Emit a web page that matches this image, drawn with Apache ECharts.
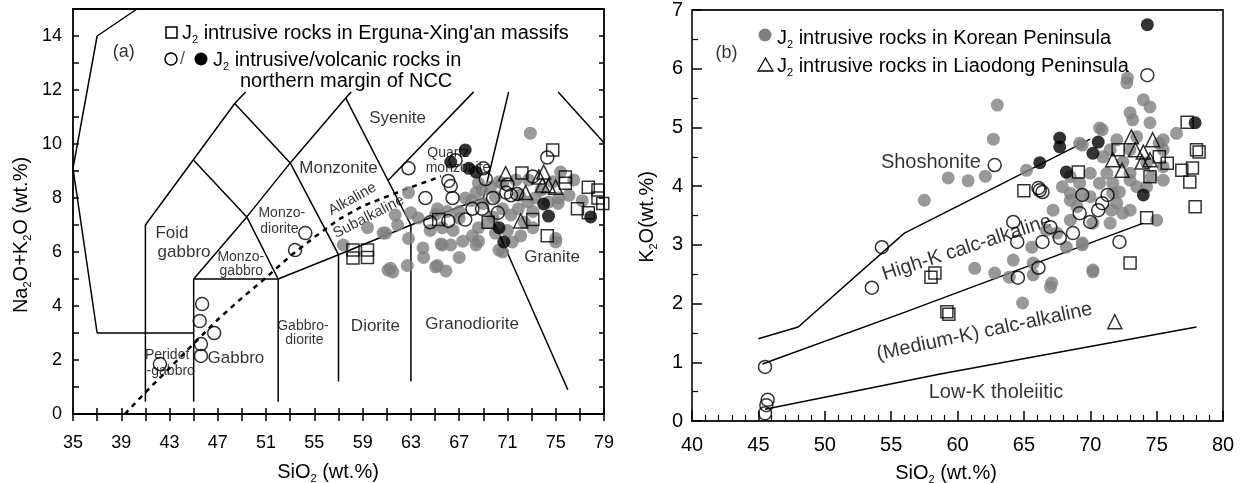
<!DOCTYPE html>
<html>
<head>
<meta charset="utf-8">
<script src="https://cdn.jsdelivr.net/npm/echarts@6/dist/echarts.min.js"></script>
<style>
  html, body { margin: 0; padding: 0; background: #fff; }
  #chart { width: 1240px; height: 483px; }
</style>
</head>
<body>
<div id="chart"></div>
<script>
const FONT = '"Liberation Sans", Arial, Helvetica, sans-serif';

// ---------- (a) TAS diagram: SiO2 vs Na2O+K2O (wt.%) ----------
const tasXTickValues = [35,37,39,41,43,45,47,49,51,53,55,57,59,61,63,65,67,69,71,73,75,77,79];
const tasXLabelValues = [35,39,43,47,51,55,59,63,67,71,75,79];
const tasYLabelValues = [0,2,4,6,8,10,12,14];

// field boundaries, [SiO2, Na2O+K2O]
const tasBoundaries = [
  [[40.3,15],[37,14],[35,9.1],[37,3],[45,3]],
  [[41,0.45],[41,7],[48.4,11.5],[49.3,11.93]],
  [[45,0.45],[45,5],[52,5],[52,0.45]],
  [[45,5],[49.4,7.3],[52,5]],
  [[45,9.4],[49.4,7.3],[53,9.3],[57.6,11.7],[58.05,11.93]],
  [[48.4,11.5],[53,9.3],[57,5.9]],
  [[52,5],[57,5.9],[63,7],[69,8]],
  [[57.6,11.7],[63,7]],
  [[61.1,8.65],[68.2,11.93]],
  [[69,8],[71.1,11.93]],
  [[75.2,11.93],[79,10.05]],
  [[69,8],[76,0.9]],
  [[57,1.2],[57,5.9]],
  [[63,1.2],[63,7]]
];
// alkaline / subalkaline divide
const tasAlkalineDivide = [[39.3,0],[41,0.8],[43,1.7],[45,2.6],[47,3.5],[49,4.3],[51,5.05],[53,5.85],[55,6.55],[57,7.2],[59,7.7],[61,8.05],[63,8.4],[65.5,8.8]];

// field names: [SiO2, Na2O+K2O, text, fontSize, rotation]
const tasFieldLabels = [
  [39.2,13.4,'(a)',18,0],
  [43.2,6.7,'Foid',17,0],
  [44.2,6.0,'gabbro',17,0],
  [52.3,7.44,'Monzo-',14,0],
  [52.1,6.85,'diorite',14,0],
  [48.9,5.81,'Monzo-',14,0],
  [48.95,5.3,'gabbro',14,0],
  [57.0,9.1,'Monzonite',17,0],
  [61.9,10.96,'Syenite',17,0],
  [66.1,9.67,'Quartz',14,0],
  [66.9,9.1,'monzonite',14,0],
  [58.15,7.96,'Alkaline',15,29],
  [59.5,7.3,'Subalkaline',15,27],
  [48.5,2.07,'Gabbro',17,0],
  [42.8,2.19,'Peridot',14,0],
  [43.1,1.6,'-gabbro',14,0],
  [54.05,3.26,'Gabbro-',14,0],
  [54.17,2.74,'diorite',14,0],
  [60.06,3.26,'Diorite',17,0],
  [68.07,3.33,'Granodiorite',17,0],
  [74.7,5.81,'Granite',17,0]
];

// samples, [SiO2, Na2O+K2O]
const tasKoreaGray = [
  [72.9,10.4],[62.8,8.2],[63.0,7.45],[61.9,7.0],[60.7,6.7],[62.8,6.5],[64.0,6.15],[64.05,5.8],[61.3,5.4],[62.7,5.5],
  [65.2,5.5],[65.9,5.3],[67.0,5.8],[65.2,7.6],[65.05,7.4],[67.0,7.25],[65.6,6.9],[66.5,6.8],[67.3,6.4],[68.1,6.6],
  [68.6,6.9],[67.5,8.0],[68.4,8.2],[68.6,8.55],[69.6,8.4],[69.4,7.1],[70.0,6.7],[71.0,6.8],[71.3,7.37],[70.6,7.6],
  [71.9,7.6],[72.7,7.85],[73.3,8.0],[73.1,7.5],[74.4,7.85],[75.25,8.0],[76.1,8.1],[75.0,6.5],[73.1,6.9],[72.1,6.6],
  [71.4,6.37],[70.6,6.0],[74.75,8.6],[75.4,8.96],[72.75,8.67],[71.7,8.67],[70.6,8.55],[70.0,8.04],[68.9,8.3],[67.0,7.5],
  [66.0,7.5],[64.6,6.8],[63.6,7.26],[65.5,6.3],[66.3,6.26],[68.4,6.26],[77.2,7.9],[75.2,7.8],[76.5,8.67],[61.7,7.37],
  [61.5,5.26],[65.05,5.45],[65.6,6.26],[70.3,6.07],[75.0,6.37],[68.6,6.4],[59.4,6.9],[60.9,6.7],[57.4,6.26],[61.1,5.33],
  [69.0,7.8],[69.8,7.3],[72.0,8.1],[73.8,8.3],[68.0,7.9],[70.3,8.6],[72.4,7.1]
];
const tasErgunaSquares = [
  [58.2,6.07],[59.4,6.07],[58.2,5.78],[59.4,5.8],[74.75,9.78],[72.2,8.93],[75.8,8.78],[75.8,8.55],[77.7,8.4],[78.5,8.3],
  [78.5,8.0],[78.9,7.8],[76.8,7.6],[77.7,7.45],[73.1,7.2],[69.4,7.1],[65.3,7.2],[74.3,6.6]
];
const tasLiaodongTriangles = [
  [70.85,8.9],[73.6,8.78],[74.0,8.96],[73.9,8.48],[74.4,8.45],[75.0,8.4],[72.5,8.2],[72.1,7.15]
];
const tasNccIntrusive = [
  [45.7,4.07],[45.5,3.44],[45.6,2.59],[45.6,2.15],[46.7,3.0],[42.2,1.85],[53.4,6.07],[54.25,6.7],[62.8,9.1],[66.7,9.4],
  [69.0,9.1],[69.2,8.7],[66.1,8.63],[66.3,8.44],[66.45,8.0],[64.2,8.0],[74.3,9.5],[69.8,8.0],[68.1,7.6],[68.9,7.6],
  [67.5,7.2],[66.1,7.15],[64.6,7.1],[70.2,7.45],[70.9,8.2],[71.3,8.1],[71.8,8.15],[71.0,8.5],[73.1,8.8]
];
const tasNccVolcanic = [
  [67.5,9.78],[66.3,9.33],[67.8,9.1],[68.4,8.96],[74.0,7.78],[74.4,7.33],[70.3,6.9],[70.7,6.37],[77.9,7.3]
];

// ---------- (b) SiO2 vs K2O (wt.%) ----------
const kXMin = 40, kXMax = 80, kXStep = 5;
const kYMin = 0, kYMax = 7, kYStep = 1;

// series boundaries, [SiO2, K2O]
const kBoundaries = [
  [[45,1.4],[48,1.6],[56,3.2],[70,4.8]],
  [[45.3,0.97],[56,1.85],[74,3.37]],
  [[45.5,0.2],[58.7,0.8],[78,1.6]]
];
const kSeriesLabels = [
  [42.6,6.27,'(b)',18,0],
  [58.0,4.4,'Shoshonite',20,0],
  [60.7,2.95,'High-K calc-alkaline',20,18],
  [62.03,1.52,'(Medium-K) calc-alkaline',20,12],
  [62.9,0.49,'Low-K tholeiitic',20,0]
];

const kKoreaGray = [
  [57.5,3.76],[63.0,5.38],[62.7,4.8],[59.3,4.14],[60.8,4.09],[62.1,4.17],[65.2,4.27],[61.3,2.6],[62.8,2.52],[63.9,2.45],
  [64.2,2.74],[65.6,2.96],[65.7,2.69],[65.7,2.49],[64.9,2.01],[67.0,2.28],[67.2,3.59],[66.7,3.25],[70.2,2.54],[68.2,2.96],
  [69.4,3.0],[72.8,5.84],[72.75,5.76],[74.0,5.47],[74.5,5.35],[73.0,5.25],[73.2,5.13],[74.5,5.08],[76.5,4.9],[70.9,4.96],
  [72.0,4.79],[73.5,4.84],[75.5,4.79],[69.2,4.73],[71.5,4.62],[73.0,4.62],[75.5,4.62],[70.95,4.5],[72.45,4.41],[74.25,4.4],
  [75.5,4.33],[70.0,4.22],[71.25,4.22],[73.0,4.22],[69.2,4.05],[70.7,4.05],[75.5,4.1],[68.5,3.88],[70.0,3.82],[71.7,3.88],
  [73.5,3.99],[74.25,3.99],[69.0,3.65],[72.0,3.71],[72.45,3.54],[68.5,3.42],[71.5,3.37],[75.0,3.42],[67.5,3.2],[70.7,4.99],
  [69.4,4.7],[75.2,4.73],[73.0,3.59],[71.6,3.59],[70.2,3.37],[69.4,3.03],[70.2,2.57],[67.1,2.35],[74.6,4.16],[68.5,4.16],
  [67.9,3.99],[72.2,3.9],[68.5,3.76],[71.7,4.05],[73.0,4.1],[69.4,3.85]
];
const kErgunaSquares = [
  [65.0,3.92],[58.0,2.45],[58.3,2.52],[59.2,1.86],[59.35,1.82],[69.1,4.24],[72.1,4.62],[75.2,4.5],[75.8,4.39],[76.9,4.27],
  [77.7,4.31],[77.5,4.07],[77.9,3.65],[78.0,4.62],[78.2,4.58],[77.3,5.09],[74.5,4.16],[74.25,3.46],[73.0,2.69]
];
const kLiaodongTriangles = [
  [73.1,4.84],[74.7,4.79],[71.7,4.45],[72.4,4.27],[73.4,4.62],[74.0,4.58],[74.5,4.45],[73.9,4.41],[71.85,1.69]
];
const kNccIntrusive = [
  [54.3,2.96],[53.55,2.27],[45.5,0.92],[45.7,0.36],[45.6,0.27],[45.5,0.13],[74.3,5.89],[62.8,4.36],[66.1,3.97],[66.4,3.9],
  [66.2,3.93],[64.2,3.39],[64.5,3.05],[66.4,3.05],[64.55,2.44],[66.1,2.61],[72.2,3.05],[69.4,3.85],[71.3,3.85],[70.9,3.71],
  [70.6,3.59],[69.2,3.54],[70.0,3.39],[67.7,3.12],[68.7,3.2],[67.0,3.3]
];
const kNccVolcanic = [
  [74.3,6.75],[67.7,4.82],[67.7,4.67],[70.6,4.75],[70.2,4.56],[66.2,4.4],[68.2,4.24],[74.0,3.85],[77.9,5.08]
];

// ---------- helpers ----------
const GRAY = '#808080';

function boundary(pts, axis, extra) {
  return {
    type: 'line', xAxisIndex: axis, yAxisIndex: axis, data: pts,
    symbol: 'none', silent: true, z: 2,
    lineStyle: Object.assign({ color: '#000', width: 1.5 }, extra || {})
  };
}
function fieldText(list, axis) {
  return {
    type: 'scatter', xAxisIndex: axis, yAxisIndex: axis, silent: true, z: 1,
    symbolSize: 1, itemStyle: { color: 'transparent' },
    label: { show: true, position: 'inside', color: '#000', fontFamily: FONT },
    data: list.map(([x, y, t, fs, rot]) => ({
      value: [x, y],
      label: { formatter: t, fontSize: fs, rotate: rot }
    }))
  };
}
function samples(data, axis, kind, z) {
  const s = { type: 'scatter', xAxisIndex: axis, yAxisIndex: axis, data, silent: true, z };
  if (kind === 'gray') { s.symbol = 'circle'; s.symbolSize = 13; s.itemStyle = { color: GRAY }; }
  if (kind === 'black') { s.symbol = 'circle'; s.symbolSize = 13; s.itemStyle = { color: '#000' }; }
  if (kind === 'open') { s.symbol = 'circle'; s.symbolSize = 13; s.itemStyle = { color: 'transparent', borderColor: '#000', borderWidth: 1.5 }; }
  if (kind === 'square') { s.symbol = 'rect'; s.symbolSize = 12; s.itemStyle = { color: 'transparent', borderColor: '#000', borderWidth: 1.5 }; }
  if (kind === 'triangle') { s.symbol = 'triangle'; s.symbolSize = 14; s.itemStyle = { color: 'transparent', borderColor: '#000', borderWidth: 1.5 }; }
  return s;
}
function rich(fs) {
  return {
    n: { fontSize: fs, fontFamily: FONT, lineHeight: fs + 4, fill: '#000' },
    s: { fontSize: Math.round(fs * 0.55), fontFamily: FONT, verticalAlign: 'bottom', fill: '#000' }
  };
}
function richText(x, y, text, fs, align, rotation) {
  return {
    type: 'text', x, y, z: 10, silent: true, rotation: rotation || 0,
    style: { text, rich: rich(fs), fill: '#000', align: align || 'left', verticalAlign: 'middle' }
  };
}

const tickStyle = { color: '#000', width: 1.5 };
const labelA = { fontSize: 18, fontFamily: FONT, color: '#000' };
const labelB = { fontSize: 20, fontFamily: FONT, color: '#000' };

const option = {
  animation: false,
  backgroundColor: '#fff',
  grid: [
    { left: 73, top: 9, width: 531, height: 405, show: true, borderColor: '#000', borderWidth: 1.8, backgroundColor: 'transparent' },
    { left: 692, top: 10, width: 531, height: 411, show: true, borderColor: '#222', borderWidth: 1.8, backgroundColor: 'transparent' }
  ],
  xAxis: [
    { gridIndex: 0, type: 'value', position: 'bottom', min: 35, max: 79,
      axisLine: { show: false }, splitLine: { show: false },
      axisTick: { inside: true, length: 6, lineStyle: tickStyle, customValues: tasXTickValues },
      axisLabel: Object.assign({ margin: 20, customValues: tasXLabelValues }, labelA) },
    { gridIndex: 1, type: 'value', position: 'bottom', min: kXMin, max: kXMax, interval: kXStep,
      axisLine: { show: false }, splitLine: { show: false },
      axisTick: { inside: true, length: 10, lineStyle: tickStyle },
      minorTick: { show: true, splitNumber: 5, length: 6, lineStyle: { color: '#000', width: 1.2 } },
      axisLabel: Object.assign({ margin: 14 }, labelB) },
    { gridIndex: 0, type: 'value', position: 'top', min: 35, max: 79,
      axisLine: { show: false }, splitLine: { show: false },
      axisTick: { inside: true, length: 7, lineStyle: tickStyle, customValues: tasXTickValues },
      axisLabel: { show: false } }
  ],
  yAxis: [
    { gridIndex: 0, type: 'value', position: 'left', min: 0, max: 15, interval: 1,
      axisLine: { show: false }, splitLine: { show: false },
      axisTick: { inside: true, length: 6, lineStyle: tickStyle },
      axisLabel: Object.assign({ margin: 11, customValues: tasYLabelValues }, labelA) },
    { gridIndex: 1, type: 'value', position: 'left', min: kYMin, max: kYMax, interval: kYStep,
      axisLine: { show: false }, splitLine: { show: false },
      axisTick: { inside: true, length: 10, lineStyle: tickStyle },
      minorTick: { show: true, splitNumber: 2, length: 6, lineStyle: { color: '#000', width: 1.2 } },
      axisLabel: Object.assign({ margin: 9 }, labelB) },
    { gridIndex: 0, type: 'value', position: 'right', min: 0, max: 15, interval: 1,
      axisLine: { show: false }, splitLine: { show: false },
      axisTick: { inside: true, length: 5, lineStyle: tickStyle },
      axisLabel: { show: false } }
  ],
  series: [
    ...tasBoundaries.map(p => boundary(p, 0)),
    boundary(tasAlkalineDivide, 0, { type: [5, 5], width: 2.5 }),
    fieldText(tasFieldLabels, 0),
    samples(tasKoreaGray, 0, 'gray', 3),
    samples(tasErgunaSquares, 0, 'square', 4),
    samples(tasLiaodongTriangles, 0, 'triangle', 4),
    samples(tasNccVolcanic, 0, 'black', 5),
    samples(tasNccIntrusive, 0, 'open', 6),

    ...kBoundaries.map(p => boundary(p, 1)),
    fieldText(kSeriesLabels, 1),
    samples(kKoreaGray, 1, 'gray', 3),
    samples(kErgunaSquares, 1, 'square', 4),
    samples(kLiaodongTriangles, 1, 'triangle', 4),
    samples(kNccVolcanic, 1, 'black', 5),
    samples(kNccIntrusive, 1, 'open', 6)
  ],
  graphic: [
    // legend of panel (a)
    { type: 'rect', z: 10, silent: true, shape: { x: 166, y: 27, width: 11, height: 11 },
      style: { fill: 'none', stroke: '#000', lineWidth: 1.5 } },
    richText(182, 33, '{n|J}{s|2}{n| intrusive rocks in Erguna-Xing\'an massifs}', 20),
    { type: 'circle', z: 10, silent: true, shape: { cx: 171, cy: 59, r: 6 },
      style: { fill: 'none', stroke: '#000', lineWidth: 1.5 } },
    { type: 'text', z: 10, silent: true, x: 180, y: 59,
      style: { text: '/', fontSize: 18, fontFamily: FONT, fill: '#555', verticalAlign: 'middle' } },
    { type: 'circle', z: 10, silent: true, shape: { cx: 201, cy: 59, r: 6.5 },
      style: { fill: '#000' } },
    richText(213, 60, '{n|J}{s|2}{n| intrusive/volcanic rocks in}', 20),
    richText(240, 81, '{n|northern margin of NCC}', 20),

    // legend of panel (b)
    { type: 'circle', z: 10, silent: true, shape: { cx: 765, cy: 35, r: 6.5 },
      style: { fill: GRAY } },
    richText(777, 38, '{n|J}{s|2}{n| intrusive rocks in Korean Peninsula}', 20),
    { type: 'polygon', z: 10, silent: true, shape: { points: [[758, 71], [773, 71], [765.5, 58]] },
      style: { fill: 'none', stroke: '#000', lineWidth: 1.3 } },
    richText(777, 66, '{n|J}{s|2}{n| intrusive rocks in Liaodong Peninsula}', 20),

    // axis titles
    richText(328, 472, '{n|SiO}{s|2}{n| (wt.%)}', 20, 'center'),
    richText(946, 473, '{n|SiO}{s|2}{n| (wt.%)}', 20, 'center'),
    richText(21, 235, '{n|Na}{s|2}{n|O+K}{s|2}{n|O (wt.%)}', 20, 'center', Math.PI / 2),
    richText(647, 217, '{n|K}{s|2}{n|O(wt.%)}', 20, 'center', Math.PI / 2)
  ]
};

const chart = echarts.init(document.getElementById('chart'), null, { renderer: 'canvas' });
chart.setOption(option);
</script>
</body>
</html>
